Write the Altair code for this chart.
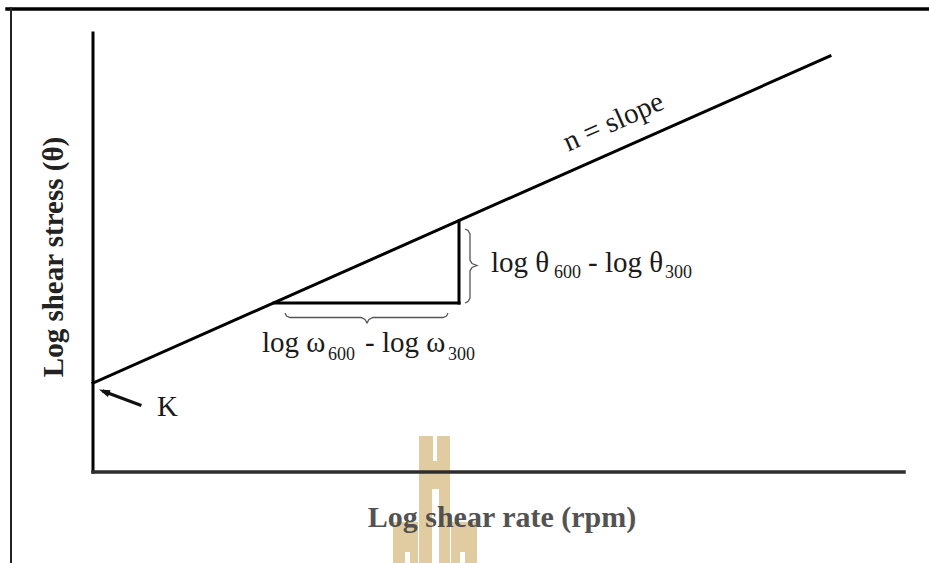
import altair as alt
import pandas as pd

# Diagram coordinates: origin at the corner of the axes (log shear rate, log shear stress)
X_DOMAIN = [-93, 836]
Y_DOMAIN = [-91, 472]

# axes extent
axis_rate_end = 811
axis_stress_end = 439

# power-law line (log shear stress vs log shear rate), K = intercept
line_rate = [0, 737]
line_stress = [89, 416]

# slope triangle
tri_rate = [181, 366]
tri_stress = [169, 251]

# braces
brace_right_rate = [372, 375, 377, 377, 379, 384, 379, 377, 377, 375, 372]
brace_right_stress = [243, 241.5, 238, 212, 208.5, 206.5, 204.5, 201, 174, 170.5, 169]
brace_bottom_rate = [192, 193.5, 197, 268, 272, 274, 276, 280, 350, 353.5, 355]
brace_bottom_stress = [159, 156, 154.5, 154.5, 152.5, 149, 152.5, 154.5, 154.5, 156, 159]

# arrow pointing at K
arrow_rate = [47, 11]
arrow_stress = [67, 80.5]
arrow_head = (11.7, 80.2)

# frame of the figure
frame_top = dict(x=-86, x2=836, y=463, y2=463)
frame_left = dict(x=-82, x2=-82, y=464, y2=-91)

# watermark blocks (x, x2, y, y2)
wm_tan = [(326, 357, 36, -91), (300, 325, -50, -91), (358, 384, -50, -91)]
wm_white = [(340, 344, 36, 11), (339, 346, -17, -91), (312, 317, -80, -91), (367, 372, -80, -91)]

# texts
main_texts = ["log θ", "- log θ", "log ω", "- log ω"]
main_x = [398, 495, 169, 272]
main_y = [200, 200, 120, 120]
sub_texts = ["600", "300", "600", "300"]
sub_x = [461, 572, 235, 355]
sub_y = [194, 194, 112, 112]

FONT = "Liberation Serif"
xs = alt.Scale(domain=X_DOMAIN, nice=False, zero=False)
ys = alt.Scale(domain=Y_DOMAIN, nice=False, zero=False)


def X(f="x"):
    return alt.X(f"{f}:Q", scale=xs, axis=None)


def Y(f="y"):
    return alt.Y(f"{f}:Q", scale=ys, axis=None)


def rects(blocks, color):
    df = pd.DataFrame(blocks, columns=["x", "x2", "y", "y2"])
    return alt.Chart(df).mark_rect(color=color, stroke=None).encode(
        x=X(), x2="x2:Q", y=Y(), y2="y2:Q")


def seg(df, color, width):
    return alt.Chart(pd.DataFrame(df)).mark_rule(
        color=color, strokeWidth=width, strokeCap="square").encode(
        x=X(), x2="x2:Q", y=Y(), y2="y2:Q")


watermark = rects(wm_tan, "#e0cca0") + rects(wm_white, "white")

frame = seg([frame_top], "#000000", 3.5) + seg([frame_left], "#222222", 2)

y_axis = seg([dict(x=0, x2=0, y=0, y2=axis_stress_end)], "#000000", 3)
x_axis = seg([dict(x=0, x2=axis_rate_end, y=0, y2=0)], "#2e2e2e", 3.5)

main_line = seg([dict(x=line_rate[0], x2=line_rate[1], y=line_stress[0], y2=line_stress[1])],
                "#000000", 3)

triangle = seg([
    dict(x=tri_rate[0], x2=tri_rate[1], y=tri_stress[0], y2=tri_stress[0]),
    dict(x=tri_rate[1], x2=tri_rate[1], y=tri_stress[0], y2=tri_stress[1]),
], "#000000", 3)

brace_df = pd.concat([
    pd.DataFrame({"x": brace_right_rate, "y": brace_right_stress, "b": "right",
                  "o": range(len(brace_right_rate))}),
    pd.DataFrame({"x": brace_bottom_rate, "y": brace_bottom_stress, "b": "bottom",
                  "o": range(len(brace_bottom_rate))}),
])
braces = alt.Chart(brace_df).mark_line(color="#555555", strokeWidth=1.3).encode(
    x=X(), y=Y(), detail="b:N", order="o:Q")

arrow_line = seg([dict(x=arrow_rate[0], x2=arrow_rate[1], y=arrow_stress[0], y2=arrow_stress[1])],
                 "#111111", 3)
arrow_tip = alt.Chart(pd.DataFrame({"x": [arrow_head[0]], "y": [arrow_head[1]]})).mark_point(
    shape="M0,-1L0.6,0.8L-0.6,0.8Z", filled=True, color="#111111", size=150,
    angle=291, opacity=1).encode(x=X(), y=Y())

main_lbl = alt.Chart(pd.DataFrame({"x": main_x, "y": main_y, "t": main_texts})).mark_text(
    font=FONT, fontSize=29, align="left", baseline="alphabetic", color="#1a1a1a").encode(
    x=X(), y=Y(), text="t:N")
sub_lbl = alt.Chart(pd.DataFrame({"x": sub_x, "y": sub_y, "t": sub_texts})).mark_text(
    font=FONT, fontSize=18, align="left", baseline="alphabetic", color="#1a1a1a").encode(
    x=X(), y=Y(), text="t:N")

slope_lbl = alt.Chart(pd.DataFrame({"x": [524], "y": [342], "t": ["n = slope"]})).mark_text(
    font=FONT, fontSize=29, align="center", baseline="alphabetic", angle=336,
    color="#1a1a1a").encode(x=X(), y=Y(), text="t:N")

k_lbl = alt.Chart(pd.DataFrame({"x": [64], "y": [56], "t": ["K"]})).mark_text(
    font=FONT, fontSize=29, align="left", baseline="alphabetic", color="#1a1a1a").encode(
    x=X(), y=Y(), text="t:N")

y_title = alt.Chart(pd.DataFrame({"x": [-30], "y": [215], "t": ["Log shear stress (θ)"]})).mark_text(
    font=FONT, fontSize=29, fontWeight="bold", align="center", baseline="alphabetic",
    angle=270, color="#222222").encode(x=X(), y=Y(), text="t:N")

x_title = alt.Chart(pd.DataFrame({"x": [409], "y": [-55], "t": ["Log shear rate (rpm)"]})).mark_text(
    font=FONT, fontSize=30, fontWeight="bold", align="center", baseline="alphabetic",
    color="#4a4a4a", opacity=0.95).encode(x=X(), y=Y(), text="t:N")

chart = alt.layer(
    watermark, frame, y_axis, x_axis, main_line, triangle, braces,
    arrow_line, arrow_tip, main_lbl, sub_lbl, slope_lbl, k_lbl, y_title, x_title,
).properties(
    width=929, height=563, padding=0, autosize=alt.AutoSizeParams(type="none"),
    background="white",
).configure_view(stroke=None)

chart.save("out.html", embed_options={"renderer": "svg", "actions": False})
